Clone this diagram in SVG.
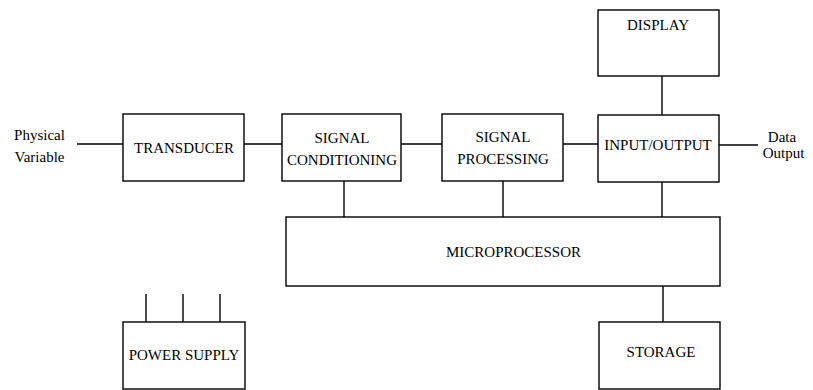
<svg xmlns="http://www.w3.org/2000/svg" width="813" height="390" viewBox="0 0 813 390">
<style>
.box{fill:#fff;stroke:#000;stroke-width:1.4}
.ln{stroke:#000;stroke-width:1.4;fill:none}
text{font-family:"Liberation Serif","Times New Roman",serif;font-size:15px;fill:#000;text-anchor:middle}
</style>
<rect width="813" height="390" fill="#fff"/>
<g id="connectors">
<line class="ln" x1="77" y1="144" x2="123" y2="144"/>
<line class="ln" x1="244" y1="144" x2="282" y2="144"/>
<line class="ln" x1="401" y1="144" x2="442" y2="144"/>
<line class="ln" x1="563" y1="144" x2="598" y2="144"/>
<line class="ln" x1="719" y1="145" x2="758" y2="145"/>
<line class="ln" x1="662" y1="76" x2="662" y2="115"/>
<line class="ln" x1="344" y1="181" x2="344" y2="217"/>
<line class="ln" x1="503" y1="181" x2="503" y2="217"/>
<line class="ln" x1="662" y1="182" x2="662" y2="217"/>
<line class="ln" x1="663" y1="286" x2="663" y2="322"/>
<line class="ln" x1="146" y1="294" x2="146" y2="322"/>
<line class="ln" x1="183" y1="294" x2="183" y2="322"/>
<line class="ln" x1="220" y1="294" x2="220" y2="322"/>
</g>
<g id="physical-variable">
<text x="39.5" y="140">Physical</text>
<text x="39.5" y="162">Variable</text>
</g>
<g id="transducer">
<rect class="box" x="123" y="114" width="121" height="67"/>
<text x="184" y="153">TRANSDUCER</text>
</g>
<g id="signal-conditioning">
<rect class="box" x="282" y="114" width="119" height="67"/>
<text x="342" y="142.5">SIGNAL</text>
<text x="342" y="165">CONDITIONING</text>
</g>
<g id="signal-processing">
<rect class="box" x="442" y="114" width="121" height="67"/>
<text x="503" y="142">SIGNAL</text>
<text x="503" y="164">PROCESSING</text>
</g>
<g id="display">
<rect class="box" x="598" y="10" width="121" height="66"/>
<text x="658" y="30">DISPLAY</text>
</g>
<g id="input-output">
<rect class="box" x="598" y="115" width="121" height="67"/>
<text x="658" y="150">INPUT/OUTPUT</text>
</g>
<g id="data-output">
<text x="782" y="142">Data</text>
<text x="783.5" y="158">Output</text>
</g>
<g id="microprocessor">
<rect class="box" x="286" y="217" width="434" height="69"/>
<text x="513.5" y="256.5">MICROPROCESSOR</text>
</g>
<g id="storage">
<rect class="box" x="599" y="322" width="121" height="67"/>
<text x="661" y="357">STORAGE</text>
</g>
<g id="power-supply">
<rect class="box" x="123" y="322" width="122" height="67"/>
<text x="184" y="359.5">POWER SUPPLY</text>
</g>
</svg>
